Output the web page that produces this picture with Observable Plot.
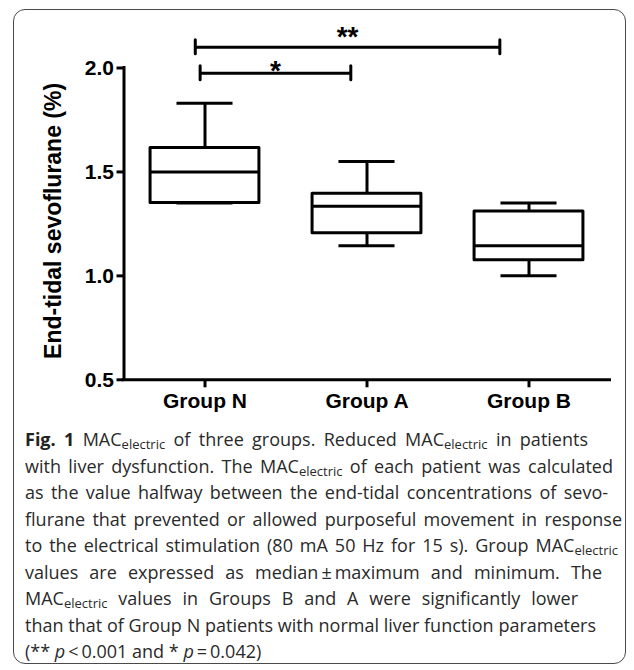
<!DOCTYPE html>
<html>
<head>
<meta charset="utf-8">
<script src="https://cdn.jsdelivr.net/npm/d3@7"></script>
<script src="https://cdn.jsdelivr.net/npm/@observablehq/plot@0.6"></script>
<style>
  html, body { margin: 0; padding: 0; background: #fff; }
  body { width: 634px; height: 670px; position: relative; overflow: hidden; }
  #frame { position: absolute; left: 13px; top: 9px; width: 613px; height: 655px; box-sizing: border-box;
           border: 1.5px solid #4a4a4a; border-radius: 12px; }
  #chart { position: absolute; left: 0; top: 0; }
  #caption { position: absolute; left: 25px; top: 426px; font-family: "Open Sans", sans-serif; font-size: 18px;
             line-height: 26.5px; color: #2a2a2a; }
  #caption .ln { white-space: nowrap; text-align: justify; text-align-last: justify; }
  #caption .last { white-space: nowrap; }
  #caption sub { font-size: 13px; vertical-align: -3px; line-height: 0; }
  #caption b { font-weight: 700; color: #222; }
</style>
</head>
<body>
<div id="frame"></div>
<div id="chart"></div>
<div id="caption"></div>
<script>
// ---- data ----
const groups = ["Group N", "Group A", "Group B"];
const maxV   = [1.83, 1.55, 1.35];
const q3V    = [1.615, 1.395, 1.31];
const medV   = [1.50, 1.335, 1.145];
const q1V    = [1.35, 1.205, 1.075];
const minV   = [1.35, 1.145, 1.00];
const yTicks = [0.5, 1.0, 1.5, 2.0];
const yTitle = "End-tidal sevoflurane (%)";

// significance brackets (x in group-index units, y in %)
const sigLabels = ["**", "*"];
const sigFrom   = [-0.06, -0.03];
const sigTo     = [1.82, 0.90];
const sigY      = [2.10, 1.975];

const rows = groups.map((g, i) => ({i, g, max: maxV[i], q3: q3V[i], med: medV[i], q1: q1V[i], min: minV[i]}));
const sig = sigLabels.map((l, i) => ({label: l, from: sigFrom[i], to: sigTo[i], y: sigY[i]}));

const boxHalf = 0.336, capHalf = 0.173, sigTick = 0.034;
const SW = 3;

const plot = Plot.plot({
  width: 634,
  height: 420,
  marginLeft: 123.5,
  marginRight: 24.5,
  marginTop: 67.5,
  marginBottom: 40.7,
  x: {type: "linear", domain: [-0.5, 2.5]},
  y: {domain: [0.5, 2.0]},
  style: {fontFamily: "'Liberation Sans', Arial, sans-serif", color: "black", background: "transparent", overflow: "visible"},
  marks: [
    // axes lines
    Plot.ruleY([0.5], {x1: -0.5, x2: 2.5, strokeWidth: SW, strokeLinecap: "square"}),
    Plot.ruleX([-0.5], {y1: 0.5, y2: 2.0, strokeWidth: SW, strokeLinecap: "square"}),
    Plot.axisY({ticks: yTicks, tickFormat: d3.format(".1f"), tickSize: 7, tickPadding: 3, strokeWidth: SW,
                fontSize: 21, fontWeight: "bold", label: null}),
    Plot.axisX({ticks: [0, 1, 2], tickFormat: i => groups[i], tickSize: 8, tickPadding: 5, strokeWidth: SW,
                fontSize: 21, fontWeight: "bold", label: null}),
    // whiskers
    Plot.ruleX(rows, {x: "i", y1: "q3", y2: "max", strokeWidth: SW}),
    Plot.ruleX(rows, {x: "i", y1: "min", y2: "q1", strokeWidth: SW}),
    Plot.ruleY(rows, {y: "max", x1: d => d.i - capHalf, x2: d => d.i + capHalf, strokeWidth: SW}),
    Plot.ruleY(rows, {y: "min", x1: d => d.i - capHalf, x2: d => d.i + capHalf, strokeWidth: SW}),
    // boxes
    Plot.rect(rows, {x1: d => d.i - boxHalf, x2: d => d.i + boxHalf, y1: "q1", y2: "q3",
                     fill: "white", stroke: "black", strokeWidth: SW, strokeLinejoin: "round"}),
    Plot.ruleY(rows, {y: "med", x1: d => d.i - boxHalf, x2: d => d.i + boxHalf, strokeWidth: SW}),
    // significance brackets
    Plot.ruleY(sig, {y: "y", x1: "from", x2: "to", strokeWidth: SW}),
    Plot.ruleX(sig, {x: "from", y1: d => d.y - sigTick, y2: d => d.y + sigTick, strokeWidth: SW, strokeLinecap: "round"}),
    Plot.ruleX(sig, {x: "to", y1: d => d.y - sigTick, y2: d => d.y + sigTick, strokeWidth: SW, strokeLinecap: "round"}),
    Plot.text(sig.filter(d => d.label === "**"), {x: d => (d.from + d.to) / 2, y: "y", text: "label",
              fontSize: 28, fontWeight: "bold", lineAnchor: "bottom", dy: -1.4}),
    Plot.text(sig.filter(d => d.label === "*"), {x: d => (d.from + d.to) / 2, y: "y", text: "label",
              fontSize: 28, fontWeight: "bold", lineAnchor: "bottom", dy: 6.4}),
    // y title
    Plot.text([yTitle], {frameAnchor: "left", textAnchor: "middle", dx: -70.5, dy: -3, rotate: -90, fontSize: 23,
              fontWeight: "bold", ariaLabel: "y-title"})
  ]
});
document.getElementById("chart").appendChild(plot);
d3.select(plot).selectAll('g[aria-label="y-title"] text').style("letter-spacing", "0.35px");

// ---- caption ----
const capLines = [
  '<b>Fig. 1</b> MAC<sub>electric</sub> of three groups. Reduced MAC<sub>electric</sub> in patients',
  'with liver dysfunction. The MAC<sub>electric</sub> of each patient was calculated',
  'as the value halfway between the end-tidal concentrations of sevo-',
  'flurane that prevented or allowed purposeful movement in response',
  'to the electrical stimulation (80 mA 50 Hz for 15 s). Group MAC<sub>electric</sub>',
  'values are expressed as median\u2009±\u2009maximum and minimum. The',
  'MAC<sub>electric</sub> values in Groups B and A were significantly lower',
  'than that of Group N patients with normal liver function parameters',
  '(** <i>p</i>\u2009&lt;\u20090.001 and * <i>p</i>\u2009=\u20090.042)'
];
const capWidths = [563, 588, 583, 597, 593, 577, 553, 571];
const cap = document.getElementById("caption");
capLines.forEach((t, i) => {
  const div = document.createElement("div");
  if (i < capWidths.length) { div.className = "ln"; div.style.width = capWidths[i] + "px"; }
  else div.className = "last";
  div.innerHTML = t;
  cap.appendChild(div);
});
</script>
</body>
</html>
